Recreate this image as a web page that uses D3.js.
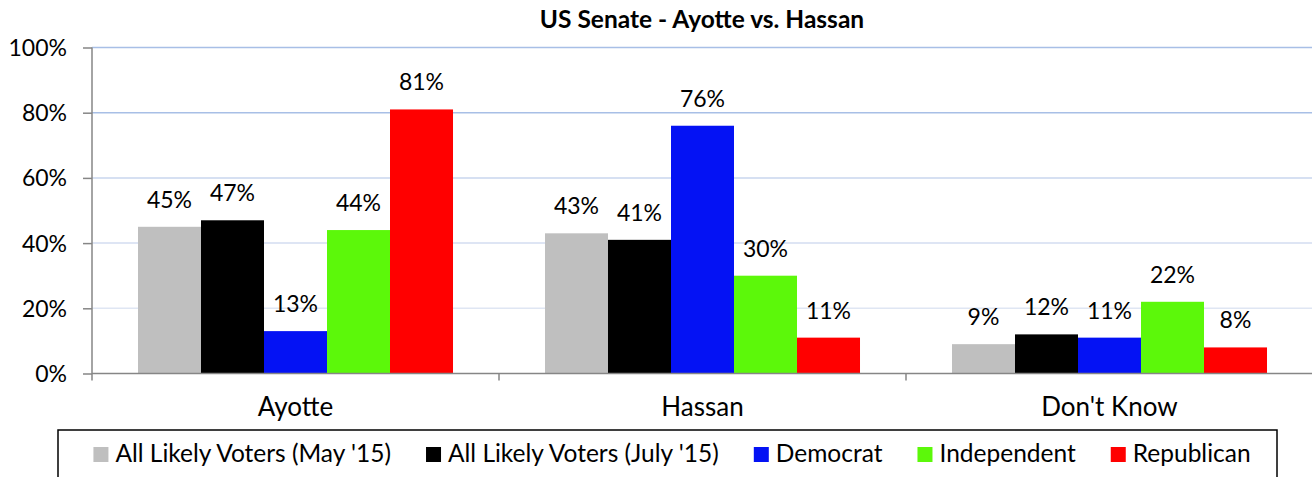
<!DOCTYPE html>
<html>
<head>
<meta charset="utf-8">
<script src="https://cdn.jsdelivr.net/npm/d3@7"></script>
<style>
  html, body { margin: 0; padding: 0; background: #fff; }
  svg text { font-family: Lato, "Open Sans", sans-serif; fill: #000; }
</style>
</head>
<body>
<div id="chart"></div>
<script>
// chart values
const categories = ["Ayotte", "Hassan", "Don't Know"];
const seriesNames = ["All Likely Voters (May '15)", "All Likely Voters (July '15)", "Democrat", "Independent", "Republican"];
const may15 = [45, 43, 9];
const july15 = [47, 41, 12];
const democrat = [13, 76, 11];
const independent = [44, 30, 22];
const republican = [81, 11, 8];
const yTicks = [0, 20, 40, 60, 80, 100];

const seriesValues = [may15, july15, democrat, independent, republican];
const colors = ["#bfbfbf", "#000000", "#0412f4", "#5cf80a", "#ff0000"];
const gridColors = ["#a8bfe6", "#dfe6f3", "#d3ddf0", "#c9d6ee", "#a8bfe6", "#a8bfe6"];

const width = 1312, height = 477;
const plotLeft = 92, plotRight = 1313, plotTop = 47.5, plotBottom = 373.5;

const svg = d3.select("#chart").append("svg")
  .attr("width", width)
  .attr("height", height);

const x0 = d3.scaleBand().domain(categories).range([plotLeft, plotRight]);
const x1 = d3.scaleBand().domain(seriesNames).range([0, x0.bandwidth()]).paddingOuter(0.73);
const y = d3.scaleLinear().domain([0, 100]).range([plotBottom, plotTop]);

// gridlines
svg.append("g").selectAll("line")
  .data(yTicks.filter(d => d > 0))
  .enter().append("line")
  .attr("x1", plotLeft).attr("x2", width)
  .attr("y1", d => y(d)).attr("y2", d => y(d))
  .attr("stroke", d => gridColors[d / 20])
  .attr("stroke-width", 1.5);

// y axis
const yAxis = svg.append("g")
  .attr("transform", `translate(${plotLeft},0)`)
  .call(d3.axisLeft(y).tickValues(yTicks).tickFormat(d => d + "%").tickSize(9).tickPadding(16));
yAxis.select(".domain").remove();
yAxis.selectAll(".tick line").attr("stroke", "#868686").attr("stroke-width", 1.5);
yAxis.selectAll(".tick text").style("font-size", "23px").attr("dy", "0.35em");
svg.append("line")
  .attr("x1", plotLeft).attr("x2", plotLeft)
  .attr("y1", y(100)).attr("y2", y(0) + 7)
  .attr("stroke", "#868686").attr("stroke-width", 1.5);

// bars
const groups = svg.append("g").selectAll("g")
  .data(categories)
  .enter().append("g")
  .attr("transform", d => `translate(${x0(d)},0)`);

groups.selectAll("rect")
  .data((c, i) => seriesNames.map((s, j) => ({ s, j, v: seriesValues[j][i] })))
  .enter().append("rect")
  .attr("x", d => x1(d.s))
  .attr("width", x1.bandwidth())
  .attr("y", d => y(d.v))
  .attr("height", d => y(0) - y(d.v))
  .attr("fill", d => colors[d.j]);

groups.selectAll("text")
  .data((c, i) => seriesNames.map((s, j) => ({ s, j, v: seriesValues[j][i] })))
  .enter().append("text")
  .attr("x", d => x1(d.s) + x1.bandwidth() / 2)
  .attr("y", d => y(d.v) - 19)
  .attr("text-anchor", "middle")
  .style("font-size", "23px")
  .text(d => d.v + "%");

// x axis
svg.append("line")
  .attr("x1", plotLeft).attr("x2", width)
  .attr("y1", y(0)).attr("y2", y(0))
  .attr("stroke", "#868686").attr("stroke-width", 1.5);
svg.append("g").selectAll("line")
  .data(categories.slice(1))
  .enter().append("line")
  .attr("x1", d => x0(d)).attr("x2", d => x0(d))
  .attr("y1", y(0)).attr("y2", y(0) + 7)
  .attr("stroke", "#868686").attr("stroke-width", 1.5);
svg.append("g").selectAll("text")
  .data(categories)
  .enter().append("text")
  .attr("x", d => x0(d) + x0.bandwidth() / 2)
  .attr("y", 416)
  .attr("text-anchor", "middle")
  .style("font-size", "26px")
  .text(d => d);

// title
svg.append("text")
  .attr("x", (plotLeft + width) / 2)
  .attr("y", 28)
  .attr("text-anchor", "middle")
  .style("font-size", "24.5px")
  .style("font-weight", "bold")
  .text("US Senate - Ayotte vs. Hassan");

// legend
svg.append("rect")
  .attr("x", 58).attr("y", 430)
  .attr("width", 1219).attr("height", 70)
  .attr("fill", "none")
  .attr("stroke", "#000").attr("stroke-width", 1.5);

const legend = svg.append("g");
const items = legend.selectAll("g")
  .data(seriesNames)
  .enter().append("g");
items.append("rect")
  .attr("width", 15).attr("height", 15)
  .attr("y", 447)
  .attr("fill", (d, i) => colors[i]);
items.append("text")
  .attr("x", 22)
  .attr("y", 462)
  .style("font-size", "24.5px")
  .text(d => d);

let widths = [];
items.each(function () { widths.push(this.querySelector("text").getComputedTextLength() + 22); });
const gap = 35;
const total = d3.sum(widths) + gap * (widths.length - 1);
let pos = 672 - total / 2;
items.attr("transform", (d, i) => {
  const t = `translate(${pos},0)`;
  pos += widths[i] + gap;
  return t;
});
</script>
</body>
</html>
